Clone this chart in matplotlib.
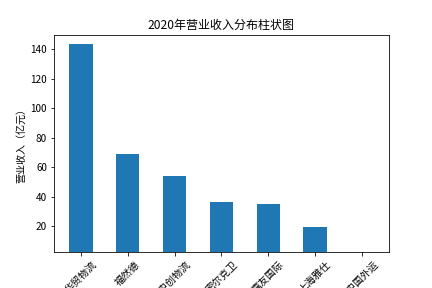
import matplotlib
matplotlib.use("Agg")
import matplotlib.pyplot as plt

plt.rcParams['font.family'] = ['Noto Sans CJK SC', 'DejaVu Sans']
plt.rcParams['axes.unicode_minus'] = False

companies = ['华贸物流', '福然德', '中创物流', '密尔克卫', '嘉友国际', '上海雅仕', '中国外运']
revenue = [143.1, 68.8, 53.9, 36.3, 35.0, 19.3, 2.0]

fig = plt.figure(figsize=(6, 4), dpi=72)
ax = fig.add_axes([0.125, 0.125, 0.775, 0.755])
ax.bar(companies, revenue, width=0.5, color='#1f77b4')
ax.set_ylim(2.4, 149.8)
ax.set_title('2020年营业收入分布柱状图', fontsize=12)
ax.set_ylabel('营业收入（亿元）', fontsize=10)
plt.setp(ax.get_xticklabels(), rotation=45)
fig.savefig('out.png', dpi=72)
